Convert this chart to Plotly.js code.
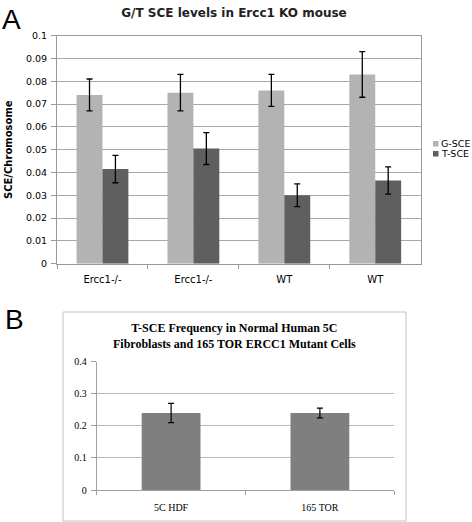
<!DOCTYPE html>
<html>
<head>
<meta charset="utf-8">
<script src="https://cdn.plot.ly/plotly-3.0.1.min.js"></script>
<style>html,body{margin:0;padding:0;background:#fff;}#chart{width:472px;height:522px;}</style>
</head>
<body>
<div id="chart"></div>
<script>
// Panel A data
const catsA = ["Ercc1-/-", "Ercc1-/- ", "WT", "WT "];
const catLabelsA = ["Ercc1-/-", "Ercc1-/-", "WT", "WT"];
const seriesA = ["G-SCE", "T-SCE"];
const gSce = [0.074, 0.075, 0.076, 0.083];
const gSceErr = [0.007, 0.008, 0.007, 0.010];
const tSce = [0.0415, 0.0505, 0.030, 0.0365];
const tSceErr = [0.006, 0.007, 0.005, 0.006];
const yTicksA = [0, 0.01, 0.02, 0.03, 0.04, 0.05, 0.06, 0.07, 0.08, 0.09, 0.1];
const yTickTextA = ["0", "0.01", "0.02", "0.03", "0.04", "0.05", "0.06", "0.07", "0.08", "0.09", "0.1"];

// Panel B data
const catsB = ["5C HDF", "165 TOR"];
const tSceFreq = [0.24, 0.24];
const tSceFreqErr = [0.03, 0.015];
const yTicksB = [0, 0.1, 0.2, 0.3, 0.4];
const yTickTextB = ["0", "0.1", "0.2", "0.3", "0.4"];

const W = 472, H = 522;
const px = v => v / W;
const py = v => 1 - v / H;

const sansA = "DejaVu Sans, Verdana, sans-serif";
const serifB = "Liberation Serif, Times New Roman, serif";
const colG = "#b3b3b3", colT = "#5f5f5f", colB = "#7f7f7f";

const traces = [
  {
    type: "bar", name: seriesA[0], x: catsA, y: gSce, xaxis: "x", yaxis: "y",
    marker: {color: colG},
    error_y: {type: "data", array: gSceErr, visible: true, color: "#000", thickness: 1.3, width: 3}
  },
  {
    type: "bar", name: seriesA[1], x: catsA, y: tSce, xaxis: "x", yaxis: "y",
    marker: {color: colT},
    error_y: {type: "data", array: tSceErr, visible: true, color: "#000", thickness: 1.3, width: 3}
  },
  {
    type: "bar", name: "T-SCE freq", x: catsB, y: tSceFreq, xaxis: "x2", yaxis: "y2",
    width: 0.395,
    marker: {color: colB},
    error_y: {type: "data", array: tSceFreqErr, visible: true, color: "#000", thickness: 1.2, width: 3}
  }
];

const layout = {
  width: W, height: H,
  margin: {l: 0, r: 0, t: 0, b: 0},
  paper_bgcolor: "#fff", plot_bgcolor: "rgba(0,0,0,0)",
  barmode: "group", bargap: 0.43, bargroupgap: 0,
  showlegend: false,
  title: {
    text: "<b>G/T SCE levels in Ercc1 KO mouse</b>",
    x: px(234), xanchor: "center", y: py(13), yanchor: "middle",
    font: {family: sansA, size: 12, color: "#222"}
  },
  xaxis: {
    domain: [px(57), px(420.7)], anchor: "y",
    type: "category", categoryarray: catsA, categoryorder: "array",
    tickvals: catsA, ticktext: catLabelsA,
    showline: true, linecolor: "#9a9a9a", linewidth: 1, mirror: true,
    ticks: "outside", tickson: "boundaries", ticklen: 4, tickcolor: "#9a9a9a",
    ticklabelstandoff: 6,
    tickfont: {family: sansA, size: 10, color: "#000"},
    showgrid: false, zeroline: false, fixedrange: true
  },
  yaxis: {
    domain: [py(263.7), py(35.7)], anchor: "x",
    range: [0, 0.1], tickvals: yTicksA, ticktext: yTickTextA,
    showgrid: true, gridcolor: "#a8a8a8", gridwidth: 1,
    showline: true, linecolor: "#9a9a9a", linewidth: 1, mirror: true,
    ticks: "outside", ticklen: 5, tickcolor: "#9a9a9a",
    ticklabelstandoff: 2,
    tickfont: {family: sansA, size: 9.5, color: "#000"},
    zeroline: false, fixedrange: true
  },
  xaxis2: {
    domain: [px(96.7), px(394.3)], anchor: "y2",
    type: "category",
    showline: true, linecolor: "#a0a0a0", linewidth: 1,
    ticks: "outside", tickson: "boundaries", ticklen: 4, tickcolor: "#a0a0a0",
    ticklabelstandoff: 8,
    tickfont: {family: serifB, size: 10, color: "#000"},
    showgrid: false, zeroline: false, fixedrange: true
  },
  yaxis2: {
    domain: [py(490), py(361.7)], anchor: "x2",
    range: [0, 0.4], tickvals: yTicksB, ticktext: yTickTextB,
    showgrid: true, gridcolor: "#b8b8b8", gridwidth: 1,
    showline: true, linecolor: "#a0a0a0", linewidth: 1,
    ticks: "outside", ticklen: 5, tickcolor: "#a0a0a0",
    ticklabelstandoff: 2,
    tickfont: {family: serifB, size: 10, color: "#000"},
    zeroline: false, fixedrange: true
  },
  shapes: [
    {type: "rect", xref: "paper", yref: "paper",
     x0: px(63), x1: px(406), y0: py(521), y1: py(312),
     line: {color: "#c4c4c4", width: 1}, fillcolor: "rgba(0,0,0,0)", layer: "below"},
    // legend swatches
    {type: "rect", xref: "paper", yref: "paper",
     x0: px(433), x1: px(438.5), y0: py(146.5), y1: py(141),
     line: {width: 0}, fillcolor: colG},
    {type: "rect", xref: "paper", yref: "paper",
     x0: px(433), x1: px(438.5), y0: py(156.5), y1: py(151),
     line: {width: 0}, fillcolor: colT}
  ],
  annotations: [
    {text: "A", xref: "paper", yref: "paper", x: px(0), y: py(2), xanchor: "left", yanchor: "top",
     showarrow: false, font: {family: "Liberation Sans, Arial, sans-serif", size: 28, color: "#000"}},
    {text: "B", xref: "paper", yref: "paper", x: px(3), y: py(302), xanchor: "left", yanchor: "top",
     showarrow: false, font: {family: "Liberation Sans, Arial, sans-serif", size: 28, color: "#000"}},
    {text: "<b>SCE/Chromosome</b>", xref: "paper", yref: "paper", x: px(8), y: py(150),
     xanchor: "center", yanchor: "middle", textangle: -90, showarrow: false,
     font: {family: sansA, size: 10, color: "#000"}},
    {text: seriesA[0], xref: "paper", yref: "paper", x: px(439.5), y: py(143.8),
     xanchor: "left", yanchor: "middle", showarrow: false, borderpad: 0,
     font: {family: sansA, size: 9.5, color: "#000"}},
    {text: seriesA[1], xref: "paper", yref: "paper", x: px(439.5), y: py(153.8),
     xanchor: "left", yanchor: "middle", showarrow: false, borderpad: 0,
     font: {family: sansA, size: 9.5, color: "#000"}},
    {text: "<b>T-SCE Frequency in Normal Human 5C<br>Fibroblasts and 165 TOR ERCC1 Mutant Cells</b>",
     xref: "paper", yref: "paper", x: px(234), y: py(336), xanchor: "center", yanchor: "middle",
     showarrow: false, align: "center",
     font: {family: serifB, size: 12, color: "#000"}}
  ]
};

Plotly.newPlot("chart", traces, layout, {staticPlot: true, displayModeBar: false});
</script>
</body>
</html>
